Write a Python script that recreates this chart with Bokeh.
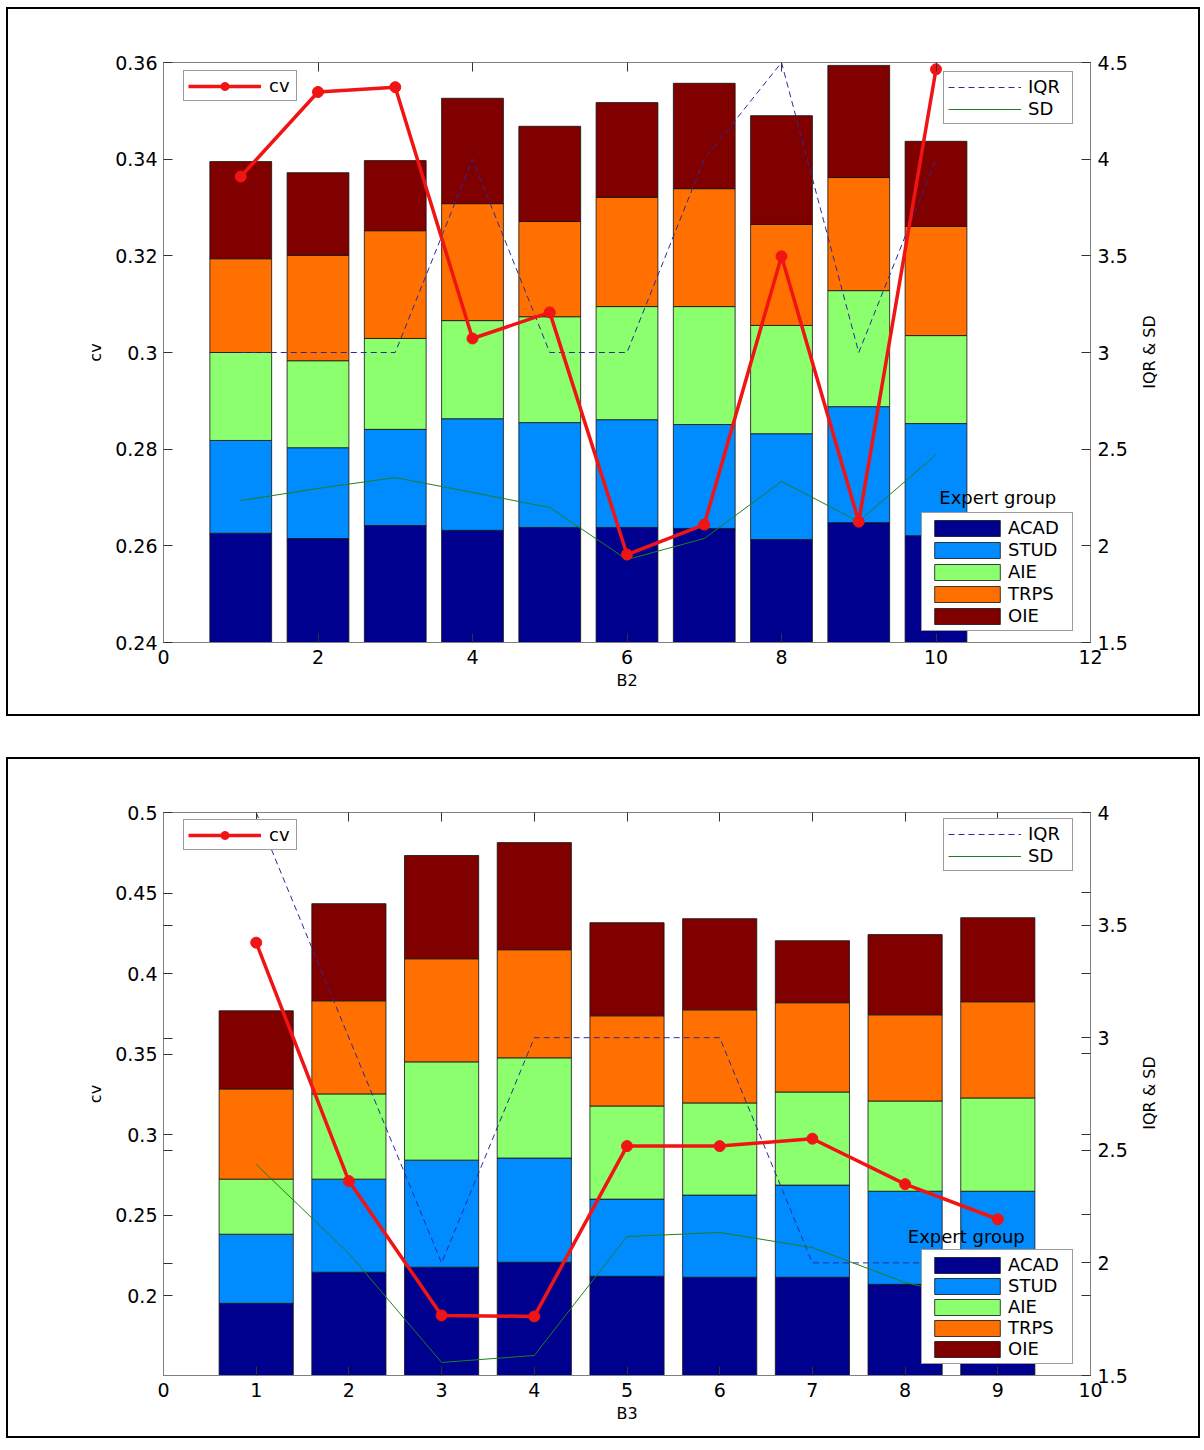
import math
from bokeh.plotting import figure
from bokeh.models import (Range1d, LinearAxis, FixedTicker, CustomJSTickFormatter,
                          Legend, LegendItem, Label, ColumnDataSource, Div)
from bokeh.layouts import column
from bokeh.embed import file_html
from bokeh.resources import INLINE

# ---------------- data ----------------
groups = ["ACAD", "STUD", "AIE", "TRPS", "OIE"]

# Panel B2 (segment heights of stacked bars; ACAD measured from 0)
b2_items = [1, 2, 3, 4, 5, 6, 7, 8, 9, 10]
b2_acad = [0.2626, 0.2615, 0.2642, 0.2632, 0.2638, 0.2638, 0.2636, 0.2613, 0.2648, 0.2621]
b2_stud = [0.0192, 0.0188, 0.0199, 0.0231, 0.0217, 0.0223, 0.0215, 0.0219, 0.0240, 0.0232]
b2_aie = [0.0182, 0.0180, 0.0188, 0.0203, 0.0219, 0.0234, 0.0244, 0.0224, 0.0240, 0.0182]
b2_trps = [0.0194, 0.0218, 0.0223, 0.0242, 0.0197, 0.0226, 0.0244, 0.0209, 0.0234, 0.0226]
b2_oie = [0.0201, 0.0171, 0.0145, 0.0218, 0.0197, 0.0196, 0.0218, 0.0225, 0.0232, 0.0176]
b2_cv = [0.3364, 0.3539, 0.3549, 0.3029, 0.3083, 0.2582, 0.2644, 0.3199, 0.2650, 0.3586]
b2_iqr = [3.0, 3.0, 3.0, 4.0, 3.0, 3.0, 4.0, 4.5, 3.0, 4.0]
b2_sd = [2.234, 2.297, 2.353, 2.276, 2.198, 1.929, 2.038, 2.333, 2.126, 2.472]
b2_xticks = [0, 2, 4, 6, 8, 10, 12]
b2_cv_ticks = [0.24, 0.26, 0.28, 0.30, 0.32, 0.34, 0.36]
b2_right_ticks = [1.5, 2.0, 2.5, 3.0, 3.5, 4.0, 4.5]

# Panel B3
b3_items = [1, 2, 3, 4, 5, 6, 7, 8, 9]
b3_acad = [0.1953, 0.2146, 0.2177, 0.2208, 0.2121, 0.2115, 0.2115, 0.2071, 0.2070]
b3_stud = [0.0429, 0.0578, 0.0665, 0.0647, 0.0479, 0.0510, 0.0572, 0.0578, 0.0579]
b3_aie = [0.0342, 0.0529, 0.0610, 0.0622, 0.0578, 0.0572, 0.0578, 0.0560, 0.0579]
b3_trps = [0.0560, 0.0578, 0.0640, 0.0671, 0.0560, 0.0578, 0.0554, 0.0535, 0.0597]
b3_oie = [0.0485, 0.0603, 0.0641, 0.0665, 0.0578, 0.0566, 0.0385, 0.0498, 0.0522]
b3_cv = [0.4192, 0.2712, 0.1878, 0.1872, 0.2929, 0.2929, 0.2975, 0.2693, 0.2475]
b3_iqr = [4.0, 3.0, 2.0, 3.0, 3.0, 3.0, 2.0, 2.0, 2.0]
b3_sd = [2.437, 2.042, 1.558, 1.589, 2.117, 2.135, 2.068, 1.913, 1.815]
b3_xticks = [0, 1, 2, 3, 4, 5, 6, 7, 8, 9, 10]
b3_cv_ticks = [0.20, 0.25, 0.30, 0.35, 0.40, 0.45, 0.50]
b3_right_ticks = [1.5, 2.0, 2.5, 3.0, 3.5, 4.0]

# ---------------- style ----------------
COLORS = ["#00008F", "#008CFF", "#8CFF6E", "#FF7000", "#800000"]
FONT = "DejaVu Sans"
AX_GRAY = "#808080"
TICK_COL = "#333333"
FMT = "return String(Number(tick.toFixed(4)));"


def style_axis(ax, ticker, label_size="19px"):
    ax.ticker = ticker
    ax.formatter = CustomJSTickFormatter(code=FMT)
    ax.axis_line_color = AX_GRAY
    ax.major_tick_line_color = TICK_COL
    ax.minor_tick_line_color = TICK_COL
    ax.major_tick_in = 9
    ax.major_tick_out = 0
    ax.minor_tick_in = 9
    ax.minor_tick_out = 0
    ax.major_label_text_font = FONT
    ax.major_label_text_font_size = label_size
    ax.major_label_text_color = "black"
    ax.axis_label_text_font = FONT
    ax.axis_label_text_font_size = "16px"
    ax.axis_label_text_font_style = "normal"
    ax.axis_label_text_color = "black"


def make_panel(items, segs, cv, iqr, sd, xr, yl, yr, xticks, lticks, rticks,
               lminor, rminor, xlabel, height, borders, legpos, expert_xy, leg_spacing):
    p = figure(width=1194, height=height, x_range=Range1d(*xr), y_range=Range1d(*yl),
               toolbar_location=None, output_backend="svg",
               min_border_left=borders[0], min_border_right=borders[1],
               min_border_top=borders[2], min_border_bottom=borders[3])
    p.extra_y_ranges = {"r": Range1d(*yr)}
    p.grid.visible = False
    p.outline_line_color = AX_GRAY
    p.background_fill_color = "white"
    p.border_fill_color = "white"
    p.styles = {"border": "2px solid black"}

    data = {"x": items}
    for g, s in zip(groups, segs):
        data[g] = s
    src = ColumnDataSource(data)
    bars = p.vbar_stack(groups, x="x", width=0.8, source=src, fill_color=COLORS,
                        line_color="#111111", line_width=0.8)

    r_iqr = p.line(items, iqr, y_range_name="r", line_color="#2A2A9E",
                   line_width=1, line_dash="6 4")
    r_sd = p.line(items, sd, y_range_name="r", line_color="#1E7F1E", line_width=1)
    r_cvl = p.line(items, cv, line_color="#F01414", line_width=3.5)
    r_cvp = p.scatter(items, cv, size=11, fill_color="#F01414", line_color="#F01414")

    # axes
    style_axis(p.xaxis[0], FixedTicker(ticks=xticks))
    p.xaxis[0].axis_label = xlabel
    p.xaxis[0].major_label_standoff = 7
    p.xaxis[0].axis_label_standoff = 4

    style_axis(p.yaxis[0], FixedTicker(ticks=lticks, minor_ticks=lminor))
    p.yaxis[0].axis_label = "cv"
    p.yaxis[0].major_label_standoff = 6
    p.yaxis[0].axis_label_standoff = 7

    ar = LinearAxis(y_range_name="r")
    style_axis(ar, FixedTicker(ticks=rticks, minor_ticks=rminor))
    ar.major_label_standoff = 7
    p.add_layout(ar, "right")

    at = LinearAxis()
    style_axis(at, FixedTicker(ticks=xticks))
    at.major_label_text_color = None
    at.major_label_text_font_size = "1px"
    p.add_layout(at, "above")

    common = dict(padding=4, glyph_height=20, label_height=21,
                  label_text_font=FONT, label_text_font_size="18px",
                  label_text_color="black",
                  border_line_color="#3a3a3a", border_line_width=1,
                  background_fill_color="white", background_fill_alpha=1.0, margin=0)

    leg_cv = Legend(items=[LegendItem(label="cv", renderers=[r_cvl, r_cvp])],
                    location=legpos[0], glyph_width=73, label_standoff=8,
                    label_width=23, spacing=1, **common)
    leg_r = Legend(items=[LegendItem(label="IQR", renderers=[r_iqr]),
                          LegendItem(label="SD", renderers=[r_sd])],
                   location=legpos[1], glyph_width=73, label_standoff=7,
                   label_width=40, spacing=1, **common)
    leg_g = Legend(items=[LegendItem(label=g, renderers=[b]) for g, b in zip(groups, bars)],
                   location=legpos[2], glyph_width=82, label_standoff=0,
                   label_width=60, spacing=leg_spacing, **common)
    for lg in (leg_cv, leg_r, leg_g):
        p.add_layout(lg, "center")

    p.add_layout(Label(x=expert_xy[0], y=expert_xy[1], text="Expert group",
                       text_align="center", text_baseline="middle",
                       text_font=FONT, text_font_size="18px", text_color="black"))
    return p


def right_title(cx, cy):
    # rotated right-hand axis title, reading bottom to top (centre at cx, cy in page px)
    w, h = 90, 20
    return Div(text="IQR &amp; SD", width=w, height=h,
               styles={"position": "absolute", "left": f"{cx - 6 - w / 2}px",
                       "top": f"{cy - 7 - h / 2}px", "transform": "rotate(-90deg)",
                       "transform-origin": "50% 50%", "font-family": FONT,
                       "font-size": "16px", "line-height": f"{h}px",
                       "text-align": "center", "white-space": "nowrap",
                       "color": "black", "margin": "0", "padding": "0"})


p1 = make_panel(b2_items, [b2_acad, b2_stud, b2_aie, b2_trps, b2_oie], b2_cv, b2_iqr, b2_sd,
                (0, 12), (0.24, 0.36), (1.5, 4.5), b2_xticks, b2_cv_ticks, b2_right_ticks,
                [], [], "B2", 709, (155, 112, 53, 76),
                [(20, 541), (780, 518), (758, 11)], (10.80, 0.2700), 1)

# mirrored tick marks of the twin axes (bottom panel)
b3_lminor = [0.15 + (v - 1.5) / 2.5 * 0.35 for v in b3_right_ticks[1:-1]]
b3_rminor = [1.5 + (v - 0.15) / 0.35 * 2.5 for v in b3_cv_ticks[:-1]]

p2 = make_panel(b3_items, [b3_acad, b3_stud, b3_aie, b3_trps, b3_oie], b3_cv, b3_iqr, b3_sd,
                (0, 10), (0.1505, 0.5), (1.5, 4.0), b3_xticks, b3_cv_ticks, b3_right_ticks,
                b3_lminor, b3_rminor, "B3", 681, (155, 112, 53, 65),
                [(20, 525), (780, 504), (758, 11)], (8.66, 0.2365), 0)

layout = column(p1, p2, right_title(1150, 352), right_title(1150, 1093), spacing=41)
layout.styles = {"margin-left": "6px", "margin-top": "7px", "position": "relative"}
open("out.html", "w").write(file_html(layout, INLINE))
